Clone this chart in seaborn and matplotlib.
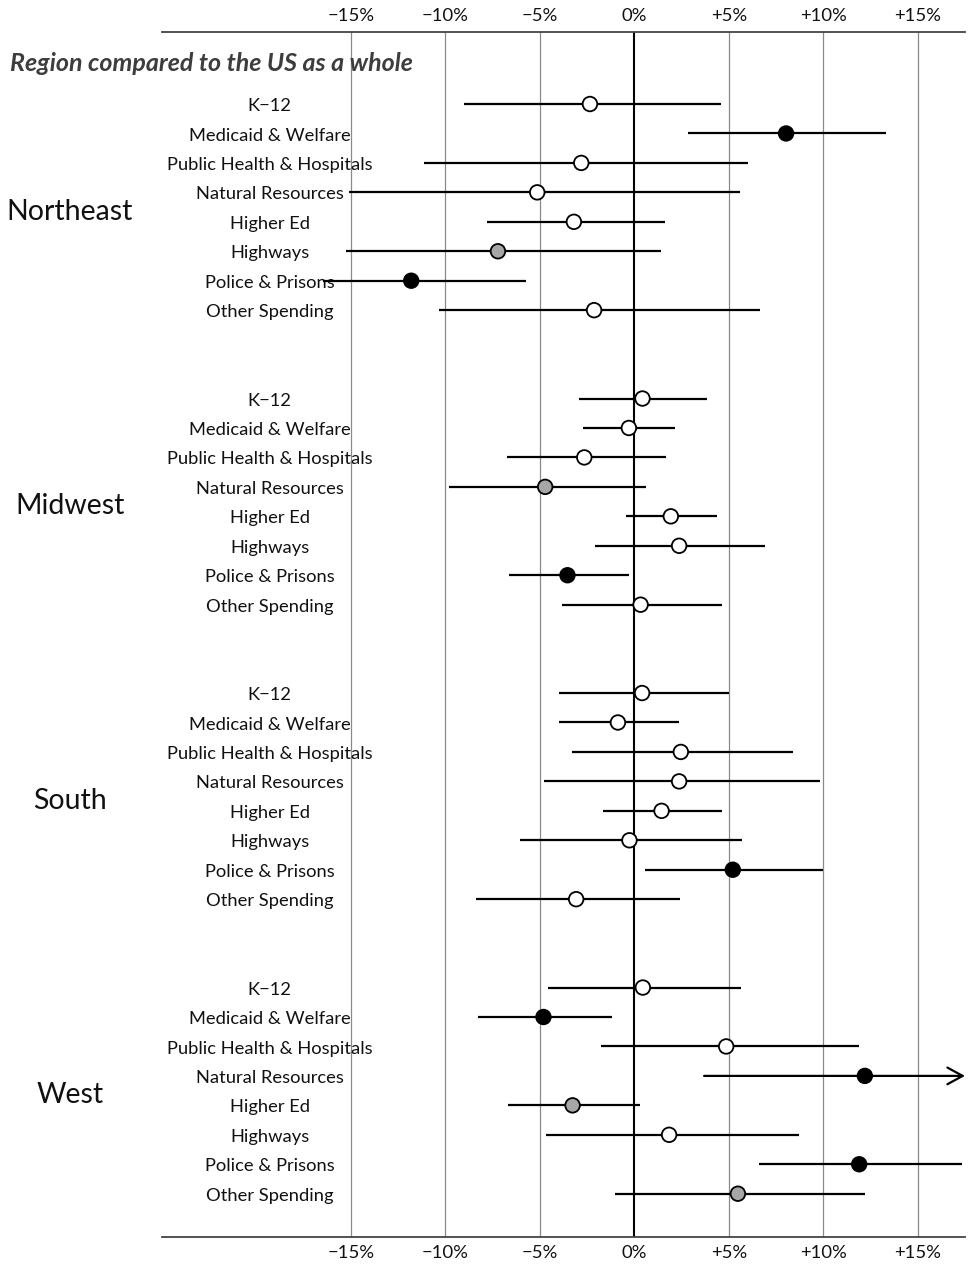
import numpy as np
import pandas as pd
import matplotlib
matplotlib.use("Agg")
import matplotlib.pyplot as plt
import matplotlib.transforms as mtrans
import seaborn as sns

# ---------------- data ----------------
regions = ["Northeast", "Midwest", "South", "West"]
categories = ["K\u221212", "Medicaid & Welfare", "Public Health & Hospitals",
              "Natural Resources", "Higher Ed", "Highways",
              "Police & Prisons", "Other Spending"]

ne_est = [-2.35, 8.03, -2.81, -5.14, -3.20, -7.22, -11.81, -2.13]
ne_lo = [-9.00, 2.85, -11.12, -15.09, -7.79, -15.26, -16.46, -10.33]
ne_hi = [4.60, 13.32, 6.04, 5.57, 1.61, 1.42, -5.76, 6.66]
ne_sig = ["none", "strong", "none", "none", "none", "weak", "strong", "none"]

mw_est = [0.43, -0.29, -2.65, -4.72, 1.93, 2.37, -3.54, 0.33]
mw_lo = [-2.94, -2.71, -6.75, -9.80, -0.45, -2.07, -6.64, -3.82]
mw_hi = [3.87, 2.14, 1.65, 0.64, 4.38, 6.94, -0.29, 4.65]
mw_sig = ["none", "none", "none", "weak", "none", "none", "strong", "none"]

s_est = [0.41, -0.87, 2.46, 2.37, 1.44, -0.26, 5.21, -3.08]
s_lo = [-4.01, -3.99, -3.32, -4.77, -1.68, -6.04, 0.57, -8.37]
s_hi = [5.00, 2.34, 8.42, 9.85, 4.65, 5.69, 9.97, 2.44]
s_sig = ["none", "none", "none", "none", "none", "none", "strong", "none"]

w_est = [0.45, -4.81, 4.86, 12.20, -3.27, 1.84, 11.90, 5.48]
w_lo = [-4.56, -8.26, -1.77, 3.69, -6.71, -4.67, 6.62, -1.01]
w_hi = [5.67, -1.17, 11.91, 20.00, 0.29, 8.74, 17.33, 12.20]
w_sig = ["none", "strong", "none", "strong", "weak", "none", "strong", "weak"]

tick_values = [-15, -10, -5, 0, 5, 10, 15]
tick_labels = ["\u221215%", "\u221210%", "\u22125%", "0%", "+5%", "+10%", "+15%"]
title_text = "Region compared to the US as a whole"

# ---------------- build table ----------------
ests = [ne_est, mw_est, s_est, w_est]
los = [ne_lo, mw_lo, s_lo, w_lo]
his = [ne_hi, mw_hi, s_hi, w_hi]
sigs = [ne_sig, mw_sig, s_sig, w_sig]
rows = []
GROUP_STEP = 10
for g, reg in enumerate(regions):
    for i, cat in enumerate(categories):
        rows.append(dict(region=reg, category=cat, row=g * GROUP_STEP + i,
                         est=ests[g][i], lo=los[g][i], hi=his[g][i], sig=sigs[g][i]))
df = pd.DataFrame(rows)

XMIN, XMAX = -25.0, 17.5

# ---------------- style ----------------
sns.set_theme(style="white")
plt.rcParams["font.family"] = ["Lato", "DejaVu Sans"]

fig = plt.figure(figsize=(9.69, 12.66), dpi=100)
ax = fig.add_axes([162 / 969, 1 - 1237 / 1266, (965 - 162) / 969, (1237 - 32) / 1266])

ax.set_xlim(XMIN, XMAX)
ax.set_ylim(38.47, -2.445)

# grid lines
for v in tick_values:
    if v != 0:
        ax.axvline(v, color="#8a8a8a", lw=0.9, zorder=1)
ax.axvline(0, color="black", lw=1.5, zorder=2)

# category labels (beneath the bars)
for _, r in df.iterrows():
    ax.text(-19.3, r["row"] + 0.07, r["category"], ha="center", va="center",
            fontsize=13.2, color="#111111", zorder=1.5)

# error lines
inside = df[df["hi"] <= XMAX]
ax.hlines(inside["row"], inside["lo"], inside["hi"], color="black", lw=1.6, zorder=3)
outside = df[df["hi"] > XMAX]
for _, r in outside.iterrows():
    ax.annotate("", xy=(XMAX, r["row"]), xytext=(r["lo"], r["row"]),
                arrowprops=dict(arrowstyle="->,head_length=0.55,head_width=0.3",
                                lw=1.6, color="black", shrinkA=0, shrinkB=0,
                                mutation_scale=20),
                annotation_clip=False, zorder=3)

# points
palette = {"none": "white", "weak": "#a6a6a6", "strong": "black"}
sns.scatterplot(data=df, x="est", y="row", hue="sig", palette=palette,
                edgecolor="black", linewidth=1.3, s=110, legend=False,
                ax=ax, zorder=4, clip_on=False)

# region labels
blend = mtrans.blended_transform_factory(ax.transAxes, ax.transData)
for g, reg in enumerate(regions):
    ax.text((70 - 162) / 803, g * GROUP_STEP + 3.65, reg, transform=blend,
            ha="center", va="center", fontsize=20.5, color="#111111", clip_on=False)

# title
ax.text((10 - 162) / 803, -1.38, title_text, transform=blend, ha="left", va="center",
        fontsize=18, fontweight="bold", fontstyle="italic", color="#3d3d3d", clip_on=False)

# axes
ax.set_xticks(tick_values)
ax.set_xticklabels(tick_labels)
ax.set_yticks([])
ax.tick_params(axis="x", top=True, labeltop=True, bottom=True, labelbottom=True,
               length=0, pad=6, labelsize=13.3, labelcolor="#111111")
ax.set_xlabel("")
ax.set_ylabel("")
for side in ["left", "right"]:
    ax.spines[side].set_visible(False)
for side in ["top", "bottom"]:
    ax.spines[side].set_visible(True)
    ax.spines[side].set_color("#444444")
    ax.spines[side].set_linewidth(1.3)

fig.savefig("out.png", dpi=100)
